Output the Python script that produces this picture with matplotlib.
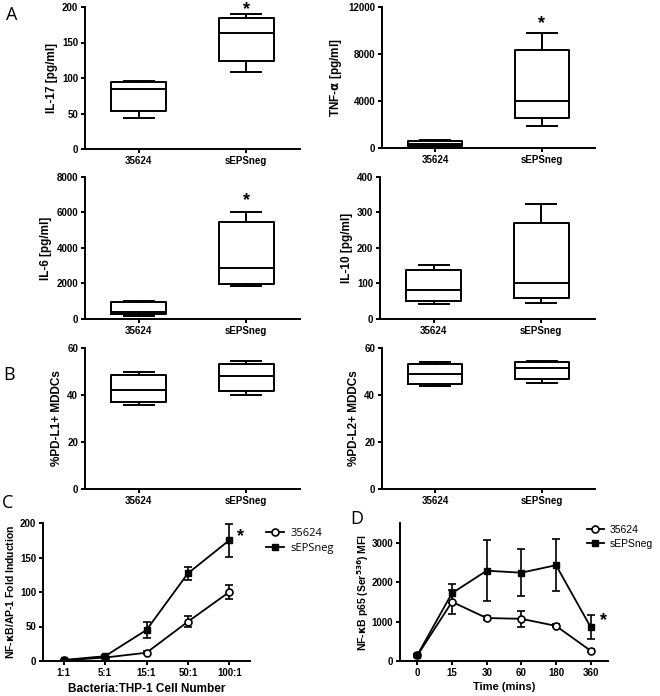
import matplotlib
matplotlib.use("Agg")
import matplotlib.pyplot as plt

plt.rcParams['font.family'] = ['Liberation Sans', 'DejaVu Sans']
plt.rcParams['font.weight'] = 'bold'
plt.rcParams['axes.labelweight'] = 'bold'
plt.rcParams['axes.linewidth'] = 1.4

groups = ['35624', 'sEPSneg']

# box stats: [min, q1, median, q3, max]
il17_35624 = [44, 53, 85, 95, 96]
il17_seps = [109, 124, 164, 184, 190]
tnf_35624 = [140, 200, 300, 620, 720]
tnf_seps = [1900, 2550, 4000, 8300, 9750]
il6_35624 = [190, 280, 420, 930, 1040]
il6_seps = [1850, 1950, 2900, 5450, 6000]
il10_35624 = [41, 52, 83, 139, 152]
il10_seps = [44, 58, 100, 270, 323]
pdl1_35624 = [35.6, 37.2, 42.1, 48.4, 50.0]
pdl1_seps = [40.1, 41.8, 47.9, 53.3, 54.5]
pdl2_35624 = [43.8, 44.8, 48.9, 53.3, 54.0]
pdl2_seps = [45.2, 46.8, 51.5, 53.9, 54.6]

# panel C
ratios = ['1:1', '5:1', '15:1', '50:1', '100:1']
c_35624 = [1, 5, 12, 57, 100]
c_35624_err = [0.5, 1, 2, 8, 10]
c_seps = [1.5, 7, 45, 127, 175]
c_seps_err = [0.5, 2, 11, 9.5, 24]

# panel D
times = ['0', '15', '30', '60', '180', '360']
d_35624 = [140, 1500, 1090, 1070, 890, 260]
d_35624_err = [30, 310, 40, 200, 40, 40]
d_seps = [150, 1720, 2290, 2240, 2430, 860]
d_seps_err = [30, 240, 770, 590, 660, 300]

W, H = 660, 696
fig = plt.figure(figsize=(6.6, 6.96), dpi=100)


def make_ax(l, t, r, b):
    ax = fig.add_axes([l / W, 1 - b / H, (r - l) / W, (b - t) / H])
    ax.spines['top'].set_visible(False)
    ax.spines['right'].set_visible(False)
    ax.tick_params(labelsize=7, width=1.4, length=3, pad=2)
    return ax


def box_panel(box, a, b, ylabel, ymax, yticks, star=None):
    ax = make_ax(*box)
    stats = []
    for s, name in zip([a, b], groups):
        stats.append({'whislo': s[0], 'q1': s[1], 'med': s[2], 'q3': s[3],
                      'whishi': s[4], 'label': name})
    lp = dict(color='black', linewidth=1.4)
    ax.bxp(stats, positions=[0, 1], widths=0.51, capwidths=0.28,
           showfliers=False, boxprops=lp, whiskerprops=lp, capprops=lp,
           medianprops=lp)
    ax.set_xlim(-0.5, 1.5)
    ax.set_ylim(0, ymax)
    ax.set_yticks(yticks)
    ax.set_ylabel(ylabel, fontsize=8.5, labelpad=3)
    if star is not None:
        ax.text(1, star, '*', ha='center', va='top', fontsize=13)
    return ax


def legend(ax, handles, x, y, family, size):
    ax.legend(handles, groups, loc='upper left', bbox_to_anchor=(x / W, 1 - y / H),
              bbox_transform=fig.transFigure, frameon=False,
              prop={'family': family, 'size': size, 'weight': 'normal'},
              handlelength=1.6, handletextpad=0.6, labelspacing=0.35,
              borderaxespad=0, borderpad=0)


box_panel((85, 7, 300, 149), il17_35624, il17_seps, 'IL-17 [pg/ml]', 200,
          [0, 50, 100, 150, 200], star=209)
box_panel((382, 7, 595, 148), tnf_35624, tnf_seps, r'TNF-$\mathbf{\alpha}$ [pg/ml]',
          12000, [0, 4000, 8000, 12000], star=11300)
box_panel((85, 177, 300, 319), il6_35624, il6_seps, 'IL-6 [pg/ml]', 8000,
          [0, 2000, 4000, 6000, 8000], star=7150)
box_panel((380, 177, 595, 319), il10_35624, il10_seps, 'IL-10 [pg/ml]', 400,
          [0, 100, 200, 300, 400])
box_panel((85, 348, 300, 489), pdl1_35624, pdl1_seps, '%PD-L1+ MDDCs', 60,
          [0, 20, 40, 60])
box_panel((382, 348, 595, 489), pdl2_35624, pdl2_seps, '%PD-L2+ MDDCs', 60,
          [0, 20, 40, 60])

# panel C
ax = make_ax(43, 523, 250, 661)
e1 = ax.errorbar(range(len(ratios)), c_35624, yerr=c_35624_err, color='black', lw=1.3,
                 marker='o', ms=5, mfc='white', mec='black', mew=1.2,
                 capsize=3, elinewidth=1.2, capthick=1.2)
e2 = ax.errorbar(range(len(ratios)), c_seps, yerr=c_seps_err, color='black', lw=1.3,
                 marker='s', ms=5, mfc='black', mec='black',
                 capsize=3, elinewidth=1.2, capthick=1.2)
ax.set_xlim(-0.5, 4.5)
ax.set_ylim(0, 200)
ax.set_yticks([0, 50, 100, 150, 200])
ax.set_xticks(range(len(ratios)))
ax.set_xticklabels(ratios)
ax.set_ylabel(r'NF-$\mathbf{\kappa}$B/AP-1 Fold Induction', fontsize=7.5, labelpad=3)
ax.set_xlabel('Bacteria:THP-1 Cell Number', fontsize=8.5, labelpad=4)
ax.text(4.27, 192, '*', ha='center', va='top', fontsize=13)
legend(ax, [e1[0], e2[0]], 266, 528, 'Open Sans', 8)

# panel D
ax = make_ax(400, 523, 608, 661)
e1 = ax.errorbar(range(len(times)), d_35624, yerr=d_35624_err, color='black', lw=1.3,
                 marker='o', ms=5, mfc='white', mec='black', mew=1.2,
                 capsize=3, elinewidth=1.2, capthick=1.2)
e2 = ax.errorbar(range(len(times)), d_seps, yerr=d_seps_err, color='black', lw=1.3,
                 marker='s', ms=5, mfc='black', mec='black',
                 capsize=3, elinewidth=1.2, capthick=1.2)
ax.set_xlim(-0.5, 5.5)
ax.set_ylim(0, 3500)
ax.set_yticks([0, 1000, 2000, 3000])
ax.set_xticks(range(len(times)))
ax.set_xticklabels(times)
ax.set_ylabel(r'NF-$\mathbf{\kappa}$B p65 (Ser$^{\mathbf{536}}$) MFI', fontsize=7.5,
              labelpad=0.5)
ax.set_xlabel('Time (mins)', fontsize=8, labelpad=3)
ax.text(5.38, 1230, '*', ha='center', va='top', fontsize=13)
legend(ax, [e1[0], e2[0]], 587, 525, 'Liberation Sans', 7.5)

# panel letters
for letter, x, y in [('A', 12, 15), ('B', 9, 375), ('C', 8, 503), ('D', 357, 519)]:
    fig.text(x / W, 1 - y / H, letter, ha='center', va='center', fontsize=13,
             fontweight='normal', family='Open Sans')

fig.savefig('out.png', dpi=100)
